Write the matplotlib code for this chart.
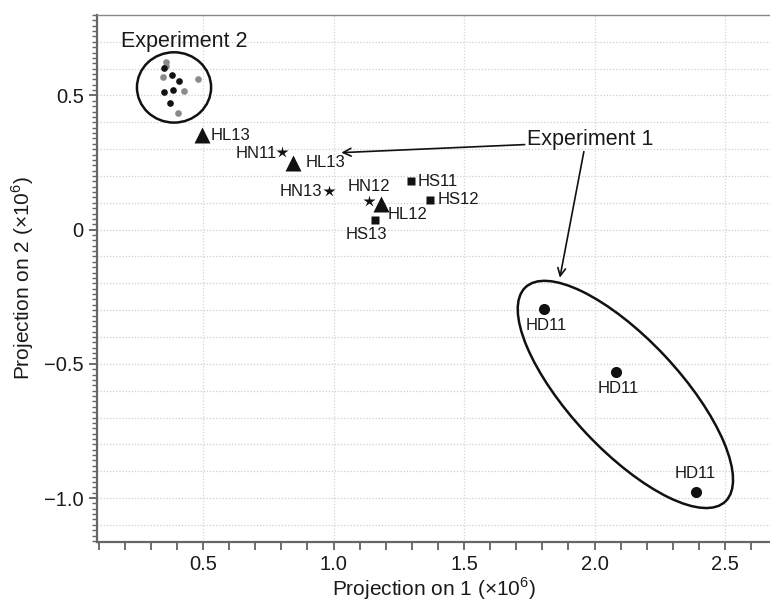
import matplotlib
matplotlib.use("Agg")
import matplotlib.pyplot as plt
from matplotlib.patches import Ellipse
from matplotlib.ticker import MultipleLocator, FixedLocator, FixedFormatter

plt.rcParams['font.family'] = ['Liberation Sans', 'DejaVu Sans']
plt.rcParams['mathtext.fontset'] = 'custom'
plt.rcParams['mathtext.rm'] = 'Liberation Sans'

# Experiment 2 cluster (black and grey dots)
exp2_black_x = [0.351, 0.380, 0.408, 0.385, 0.351, 0.374]
exp2_black_y = [0.603, 0.575, 0.553, 0.522, 0.514, 0.473]
exp2_grey_x = [0.360, 0.358, 0.347, 0.479, 0.427, 0.406]
exp2_grey_y = [0.624, 0.609, 0.570, 0.563, 0.516, 0.433]

# Experiment 1 samples
hl_x = [0.495, 0.846, 1.182]
hl_y = [0.351, 0.249, 0.097]
hl_labels = ['HL13', 'HL13', 'HL12']

hn_x = [0.802, 0.981, 1.137]
hn_y = [0.288, 0.143, 0.106]
hn_labels = ['HN11', 'HN13', 'HN12']

hs_x = [1.297, 1.368, 1.157]
hs_y = [0.180, 0.112, 0.037]
hs_labels = ['HS11', 'HS12', 'HS13']

hd_x = [1.806, 2.081, 2.387]
hd_y = [-0.296, -0.532, -0.976]
hd_labels = ['HD11', 'HD11', 'HD11']

x_ticks = [0.5, 1.0, 1.5, 2.0, 2.5]
x_tick_labels = ['0.5', '1.0', '1.5', '2.0', '2.5']
y_ticks = [-1.0, -0.5, 0.0, 0.5]
y_tick_labels = ['\u22121.0', '\u22120.5', '0', '0.5']

fig = plt.figure(figsize=(7.7, 6.04), dpi=100)
ax = fig.add_axes([0.126, 0.1026, 0.874, 0.8726])

ax.set_xlim(0.094, 2.672)
ax.set_ylim(-1.164, 0.80)

# grid
for gy in [i / 10 for i in range(-11, 8)]:
    ax.axhline(gy, color='#cfcfcf', lw=0.9, ls=(0, (1, 1.5)), zorder=0)
for gx in x_ticks:
    ax.axvline(gx, color='#d5d5d5', lw=0.9, ls=(0, (1, 1.5)), zorder=0)

# points
ax.plot(exp2_grey_x, exp2_grey_y, 'o', color='#8a8a8a', ms=4.8, mec='none')
ax.plot(exp2_black_x, exp2_black_y, 'o', color='#111111', ms=4.8, mec='none')
ax.plot(hl_x, hl_y, '^', color='#111111', ms=11, mec='none')
ax.plot(hn_x, hn_y, '*', color='#111111', ms=9, mec='none')
ax.plot(hs_x, hs_y, 's', color='#111111', ms=5.8, mec='none')
ax.plot(hd_x, hd_y, 'o', color='#111111', ms=8, mec='none')

# point labels (offset in pixels)
lab_fs = 12
hl_off = [((9, 0), 'left'), ((12, 0), 'left'), ((7, -11), 'left')]
hn_off = [((-5, -1), 'right'), ((-6, 0), 'right'), ((0, 15), 'center')]
hs_off = [((7, 0), 'left'), ((8, 0), 'left'), ((-8, -15), 'center')]
hd_off = [((2, -16), 'center'), ((3, -16), 'center'), ((0, 18), 'center')]
for xs, ys, labs, offs in [(hl_x, hl_y, hl_labels, hl_off),
                           (hn_x, hn_y, hn_labels, hn_off),
                           (hs_x, hs_y, hs_labels, hs_off),
                           (hd_x, hd_y, hd_labels, hd_off)]:
    for x, y, t, (o, ha) in zip(xs, ys, labs, offs):
        ax.annotate(t, (x, y), xytext=o, textcoords='offset pixels',
                    ha=ha, va='center', fontsize=lab_fs, color='#1a1a1a')

# group outlines
ax.add_patch(Ellipse((0.389, 0.530), 0.284, 0.262, fill=False,
                     ec='#111111', lw=1.8))
ax.add_patch(Ellipse((2.118, -0.614), 1.106, 0.417, angle=-46,
                     fill=False, ec='#111111', lw=1.8))

ax.text(0.185, 0.70, 'Experiment 2', fontsize=15.5, ha='left', va='center',
        color='#1a1a1a')
ax.text(1.985, 0.336, 'Experiment 1', fontsize=15.5, ha='center', va='center',
        color='#1a1a1a')
arrow = dict(arrowstyle='->', color='#111111', lw=1.2,
             shrinkA=0, shrinkB=0, mutation_scale=14)
ax.annotate('', xy=(1.030, 0.287), xytext=(1.732, 0.317), arrowprops=arrow)
ax.annotate('', xy=(1.867, -0.179), xytext=(1.959, 0.291), arrowprops=arrow)

# axes styling
ax.xaxis.set_major_locator(FixedLocator(x_ticks))
ax.xaxis.set_major_formatter(FixedFormatter(x_tick_labels))
ax.xaxis.set_minor_locator(MultipleLocator(0.1))
ax.yaxis.set_major_locator(FixedLocator(y_ticks))
ax.yaxis.set_major_formatter(FixedFormatter(y_tick_labels))
ax.yaxis.set_minor_locator(MultipleLocator(0.02))

ax.tick_params(axis='both', which='major', labelsize=14.5, colors='#555555',
               labelcolor='#1a1a1a', length=6, width=1.2)
ax.tick_params(axis='x', which='minor', length=6, width=1.2, colors='#555555')
ax.tick_params(axis='y', which='minor', length=3.5, width=1.0, colors='#666666')
ax.tick_params(axis='x', pad=3)

for s in ['left', 'bottom', 'top']:
    ax.spines[s].set_color('#666666')
    ax.spines[s].set_linewidth(1.6)
ax.spines['top'].set_color('#888888')
ax.spines['top'].set_linewidth(1.0)
ax.spines['right'].set_visible(False)

ax.set_xlabel('Projection on 1 (\u00d710$^{6}$)', fontsize=15, color='#1a1a1a',
              labelpad=1)
ax.set_ylabel('Projection on 2 (\u00d710$^{6}$)', fontsize=15, color='#1a1a1a',
              labelpad=6)

fig.savefig('out.png', dpi=100)
